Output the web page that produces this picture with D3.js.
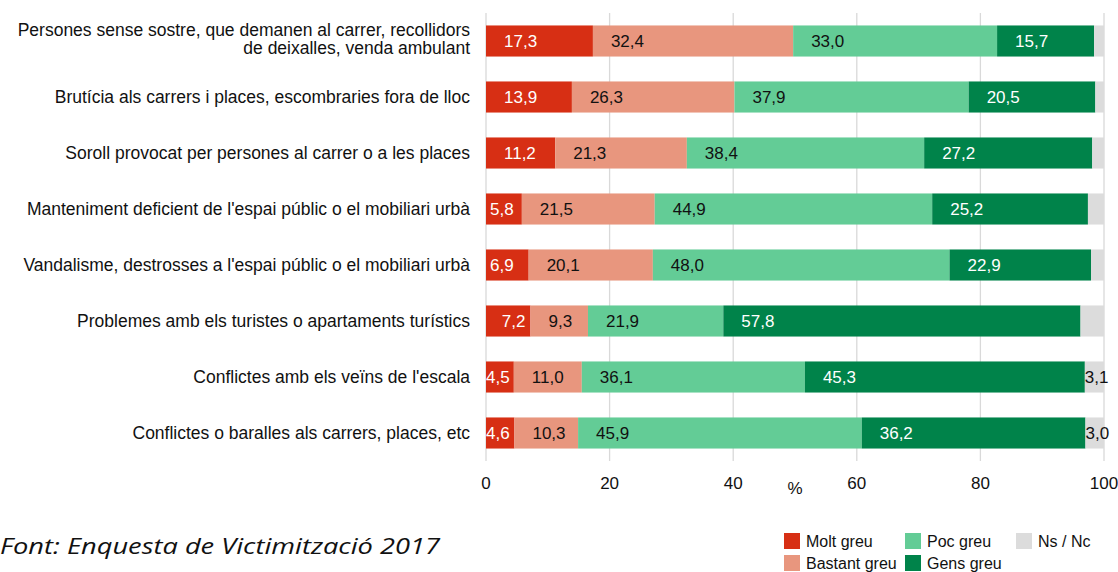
<!DOCTYPE html>
<html>
<head>
<meta charset="utf-8">
<script src="https://cdn.jsdelivr.net/npm/d3@7"></script>
<style>
  html, body { margin: 0; padding: 0; background: #fff; }
  svg { display: block; }
</style>
</head>
<body>
<svg id="chart" width="1118" height="572"></svg>
<script>
const categories = [
  ["Persones sense sostre, que demanen al carrer, recollidors", "de deixalles, venda ambulant"],
  ["Brutícia als carrers i places, escombraries fora de lloc"],
  ["Soroll provocat per persones al carrer o a les places"],
  ["Manteniment deficient de l'espai públic o el mobiliari urbà"],
  ["Vandalisme, destrosses a l'espai públic o el mobiliari urbà"],
  ["Problemes amb els turistes o apartaments turístics"],
  ["Conflictes amb els veïns de l'escala"],
  ["Conflictes o baralles als carrers, places, etc"]
];
const seriesNames = ["Molt greu", "Bastant greu", "Poc greu", "Gens greu", "Ns / Nc"];
const moltGreu    = [17.3, 13.9, 11.2, 5.8, 6.9, 7.2, 4.5, 4.6];
const bastantGreu = [32.4, 26.3, 21.3, 21.5, 20.1, 9.3, 11.0, 10.3];
const pocGreu     = [33.0, 37.9, 38.4, 44.9, 48.0, 21.9, 36.1, 45.9];
const gensGreu    = [15.7, 20.5, 27.2, 25.2, 22.9, 57.8, 45.3, 36.2];
const nsNc        = [1.6, 1.4, 1.9, 2.6, 2.1, 3.8, 3.1, 3.0];
const nsNcLabelShown = [false, false, false, false, false, false, true, true];
const xTicks = [0, 20, 40, 60, 80, 100];
const axisTitle = "%";
const sourceText = "Font: Enquesta de Victimització 2017";

const colors = ["#d72f14", "#e8967e", "#63cc96", "#00834a", "#dcdcdc"];
const labelColors = ["#fff", "#111", "#111", "#fff", "#111"];

const svg = d3.select("#chart");
const x = d3.scaleLinear().domain([0, 100]).range([486, 1104]);
const y = d3.scaleBand().domain(d3.range(categories.length)).range([13, 461])
  .paddingInner(0.445).paddingOuter(0.2225);

// gridlines
svg.append("g").selectAll("line").data(xTicks).join("line")
  .attr("x1", d => x(d)).attr("x2", d => x(d))
  .attr("y1", 13).attr("y2", 461)
  .attr("stroke", "#d9d9d9").attr("stroke-width", 1.3);

// tick labels
svg.append("g").selectAll("text").data(xTicks).join("text")
  .attr("x", d => x(d)).attr("y", 489)
  .attr("text-anchor", "middle")
  .attr("font-family", "Liberation Sans, Arial, sans-serif")
  .attr("font-size", 17).attr("fill", "#111")
  .text(d => d);

svg.append("text")
  .attr("x", (x(40) + x(60)) / 2).attr("y", 494)
  .attr("text-anchor", "middle")
  .attr("font-family", "Liberation Sans, Arial, sans-serif")
  .attr("font-size", 17).attr("fill", "#111")
  .text(axisTitle);

// stacked data
const seriesVals = [moltGreu, bastantGreu, pocGreu, gensGreu, nsNc];
const rows = categories.map((c, i) => {
  const o = { idx: i };
  seriesNames.forEach((s, k) => o[s] = seriesVals[k][i]);
  return o;
});
const stacked = d3.stack().keys(seriesNames)(rows);

const layers = svg.append("g").selectAll("g").data(stacked).join("g")
  .attr("fill", (d, k) => colors[k]);

layers.selectAll("rect").data(d => d).join("rect")
  .attr("x", d => x(d[0]))
  .attr("y", d => y(d.data.idx))
  .attr("width", d => x(d[1]) - x(d[0]))
  .attr("height", y.bandwidth());

// value labels
stacked.forEach((layer, k) => {
  layer.forEach(d => {
    const i = d.data.idx;
    if (k === 4 && !nsNcLabelShown[i]) return;
    const v = d[1] - d[0];
    const txt = v.toFixed(1).replace(".", ",");
    const t = svg.append("text")
      .attr("y", y(i) + y.bandwidth() / 2)
      .attr("dy", "0.36em")
      .attr("font-family", "Liberation Sans, Arial, sans-serif")
      .attr("font-size", 17)
      .attr("fill", labelColors[k])
      .text(txt);
    const tw = t.node().getComputedTextLength();
    const w = x(d[1]) - x(d[0]);
    const room = w - tw;
    let off;
    if (room >= 20) off = Math.min(18, room - 5);
    else if (room >= 10) off = 4;
    else off = 0;
    t.attr("x", x(d[0]) + off);
  });
});

// category labels
const catG = svg.append("g");
categories.forEach((lines, i) => {
  const cy = y(i) + y.bandwidth() / 2;
  const n = lines.length;
  const t = catG.append("text")
    .attr("text-anchor", "end")
    .attr("font-family", "Liberation Sans, Arial, sans-serif")
    .attr("font-size", 17.5).attr("fill", "#111");
  lines.forEach((ln, j) => {
    t.append("tspan")
      .attr("x", 470)
      .attr("y", cy + (n > 1 ? 4 : 6) + (j - (n - 1) / 2) * 18)
      .text(ln);
  });
});

// legend
const legendPos = [[784, 533], [784, 555], [905, 533], [905, 555], [1016, 533]];
const lg = svg.append("g").selectAll("g").data(seriesNames).join("g")
  .attr("transform", (d, k) => `translate(${legendPos[k][0]},${legendPos[k][1]})`);
lg.append("rect").attr("width", 16).attr("height", 16).attr("fill", (d, k) => colors[k]);
lg.append("text").attr("x", 22).attr("y", 14)
  .attr("font-family", "Liberation Sans, Arial, sans-serif")
  .attr("font-size", 16).attr("fill", "#111")
  .text(d => d);

// source
svg.append("text")
  .attr("x", 0).attr("y", 554)
  .attr("font-family", "Open Sans, Noto Sans, sans-serif")
  .attr("font-style", "italic")
  .attr("font-size", 22).attr("fill", "#111")
  .attr("textLength", 440).attr("lengthAdjust", "spacingAndGlyphs")
  .text(sourceText);
</script>
</body>
</html>
